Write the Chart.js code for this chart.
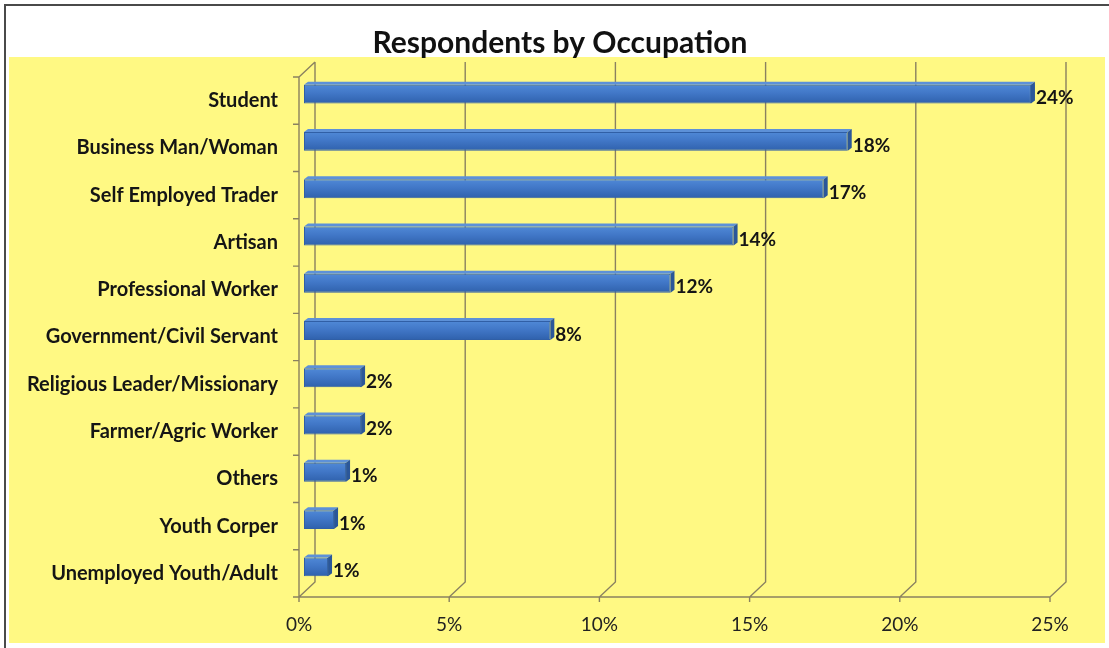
<!DOCTYPE html>
<html>
<head>
<meta charset="utf-8">
<script src="https://cdn.jsdelivr.net/npm/chart.js@4.4.0/dist/chart.umd.min.js"></script>
<style>
  html, body { margin: 0; padding: 0; background: #ffffff; }
  #wrap { width: 1109px; height: 648px; position: relative; }
</style>
</head>
<body>
<div id="wrap"><canvas id="occ" width="1109" height="648"></canvas></div>
<script>
// Occupation categories, top to bottom
const categories = [
  'Student',
  'Business Man/Woman',
  'Self Employed Trader',
  'Artisan',
  'Professional Worker',
  'Government/Civil Servant',
  'Religious Leader/Missionary',
  'Farmer/Agric Worker',
  'Others',
  'Youth Corper',
  'Unemployed Youth/Adult'
];

// Share of respondents (%)
const shares = [24.2, 18.1, 17.3, 14.3, 12.2, 8.2, 1.9, 1.9, 1.4, 1.0, 0.8];

// Value axis ticks (%)
const tickValues = [0, 5, 10, 15, 20, 25];

const chartTitle = 'Respondents by Occupation';

// Pseudo-3D geometry
const WALL = { dx: 16, dy: -15 };      // depth of the back wall
const BAR_SHIFT = { dx: 5, dy: -6.5 }; // bar front face offset from the front plane
const BAR_DEPTH = { dx: 4, dy: -3 };   // visible depth of each bar

const FONT = 'Lato, "Open Sans", "DejaVu Sans", sans-serif';
const GRID_COLOR = '#8a8160';

const backgroundPlugin = {
  id: 'panelBackground',
  beforeDraw(chart) {
    const ctx = chart.ctx;
    ctx.save();
    ctx.fillStyle = '#ffffff';
    ctx.fillRect(0, 0, chart.width, chart.height);
    ctx.fillStyle = '#fff983';
    ctx.fillRect(9, 57, 1096, 586);
    ctx.strokeStyle = '#4a4a4a';
    ctx.lineWidth = 2;
    ctx.beginPath();
    ctx.moveTo(5, chart.height);
    ctx.lineTo(5, 5);
    ctx.lineTo(chart.width, 5);
    ctx.stroke();
    ctx.restore();
  }
};

const framePlugin = {
  id: 'frame3d',
  beforeDatasetsDraw(chart) {
    const ctx = chart.ctx;
    const xs = chart.scales.x;
    const ys = chart.scales.y;
    const top = chart.chartArea.top;
    const bottom = chart.chartArea.bottom;
    const left = xs.getPixelForValue(tickValues[0]);
    const right = xs.getPixelForValue(tickValues[tickValues.length - 1]);
    ctx.save();
    ctx.strokeStyle = GRID_COLOR;
    ctx.lineWidth = 1.4;
    ctx.beginPath();
    // back-wall gridlines with floor connectors
    tickValues.forEach(v => {
      const x = xs.getPixelForValue(v);
      ctx.moveTo(x, bottom + 5);
      ctx.lineTo(x, bottom);
      ctx.lineTo(x + WALL.dx, bottom + WALL.dy);
      ctx.lineTo(x + WALL.dx, top + WALL.dy);
    });
    // floor front edge
    ctx.moveTo(left, bottom);
    ctx.lineTo(right, bottom);
    // left wall front edge and top connector
    ctx.moveTo(left, bottom);
    ctx.lineTo(left, top);
    ctx.lineTo(left + WALL.dx, top + WALL.dy);
    // category separators on the left wall
    const n = categories.length;
    const band = (ys.getPixelForValue(n - 1) - ys.getPixelForValue(0)) / (n - 1);
    for (let i = 0; i <= n; i++) {
      const y = ys.getPixelForValue(0) - band / 2 + i * band;
      ctx.moveTo(left - 6, y);
      ctx.lineTo(left, y);
    }
    ctx.stroke();
    ctx.restore();

    ctx.save();
    ctx.translate(BAR_SHIFT.dx, BAR_SHIFT.dy);
  },
  afterDatasetsDraw(chart) {
    const ctx = chart.ctx;
    const meta = chart.getDatasetMeta(0);
    meta.data.forEach(bar => {
      const p = bar.getProps(['x', 'y', 'base', 'height'], true);
      const x0 = p.base, x1 = p.x;
      const yT = p.y - p.height / 2, yB = p.y + p.height / 2;
      // top face
      ctx.beginPath();
      ctx.moveTo(x0, yT);
      ctx.lineTo(x0 + BAR_DEPTH.dx, yT + BAR_DEPTH.dy);
      ctx.lineTo(x1 + BAR_DEPTH.dx, yT + BAR_DEPTH.dy);
      ctx.lineTo(x1, yT);
      ctx.closePath();
      ctx.fillStyle = '#5d91d8';
      ctx.fill();
      // end face
      ctx.beginPath();
      ctx.moveTo(x1, yT);
      ctx.lineTo(x1 + BAR_DEPTH.dx, yT + BAR_DEPTH.dy);
      ctx.lineTo(x1 + BAR_DEPTH.dx, yB + BAR_DEPTH.dy);
      ctx.lineTo(x1, yB);
      ctx.closePath();
      ctx.fillStyle = '#2b5799';
      ctx.fill();
    });
    ctx.restore();

    // value labels
    ctx.save();
    ctx.font = 'bold 19px ' + FONT;
    ctx.fillStyle = '#151515';
    ctx.textAlign = 'left';
    ctx.textBaseline = 'middle';
    meta.data.forEach((bar, i) => {
      const p = bar.getProps(['x', 'y'], true);
      ctx.fillText(Math.round(shares[i]) + '%', p.x + BAR_SHIFT.dx + BAR_DEPTH.dx + 1, p.y + BAR_SHIFT.dy + 4);
    });
    ctx.restore();
  }
};

const canvas = document.getElementById('occ');
new Chart(canvas, {
  type: 'bar',
  data: {
    labels: categories,
    datasets: [{
      data: shares,
      backgroundColor: (c) => {
        const chart = c.chart;
        const ys = chart.scales.y;
        if (!ys || c.dataIndex === undefined) return '#3d70be';
        const yc = ys.getPixelForValue(c.dataIndex);
        if (!Number.isFinite(yc)) return '#3d70be';
        const g = chart.ctx.createLinearGradient(0, yc - 9, 0, yc + 9);
        g.addColorStop(0, '#4f88d6');
        g.addColorStop(0.45, '#4177c7');
        g.addColorStop(1, '#3062ad');
        return g;
      },
      borderColor: '#305fa6',
      borderWidth: 1,
      borderSkipped: false,
      categoryPercentage: 1,
      barPercentage: 0.4,
      clip: false
    }]
  },
  options: {
    responsive: false,
    animation: false,
    devicePixelRatio: 1,
    indexAxis: 'y',
    layout: { padding: { left: 11, right: 0, top: 0, bottom: 0 } },
    plugins: {
      legend: { display: false },
      tooltip: { enabled: false },
      title: {
        display: true,
        text: chartTitle,
        color: '#111111',
        font: { family: FONT, size: 30, weight: 'bold', lineHeight: 1.2 },
        padding: { top: 25, bottom: 16 }
      }
    },
    scales: {
      x: {
        min: 0,
        max: 25,
        afterBuildTicks: (scale) => { scale.ticks = tickValues.map(v => ({ value: v })); },
        grid: { display: false, drawTicks: false },
        border: { display: false },
        ticks: {
          color: '#222222',
          padding: 16,
          font: { family: FONT, size: 19 },
          callback: (v) => v + '%'
        },
        afterFit: (scale) => { scale.height = 51; }
      },
      y: {
        grid: { display: false, drawTicks: false },
        border: { display: false },
        ticks: {
          color: '#151515',
          padding: 21,
          font: { family: FONT, size: 20, weight: 'bold' }
        },
        afterFit: (scale) => { scale.width = 288; }
      },
      // empty right-hand margin axis
      margin: {
        type: 'linear',
        position: 'right',
        display: true,
        grid: { display: false, drawTicks: false },
        border: { display: false },
        ticks: { display: false },
        afterFit: (scale) => { scale.width = 59; }
      }
    }
  },
  plugins: [backgroundPlugin, framePlugin]
});
</script>
</body>
</html>
